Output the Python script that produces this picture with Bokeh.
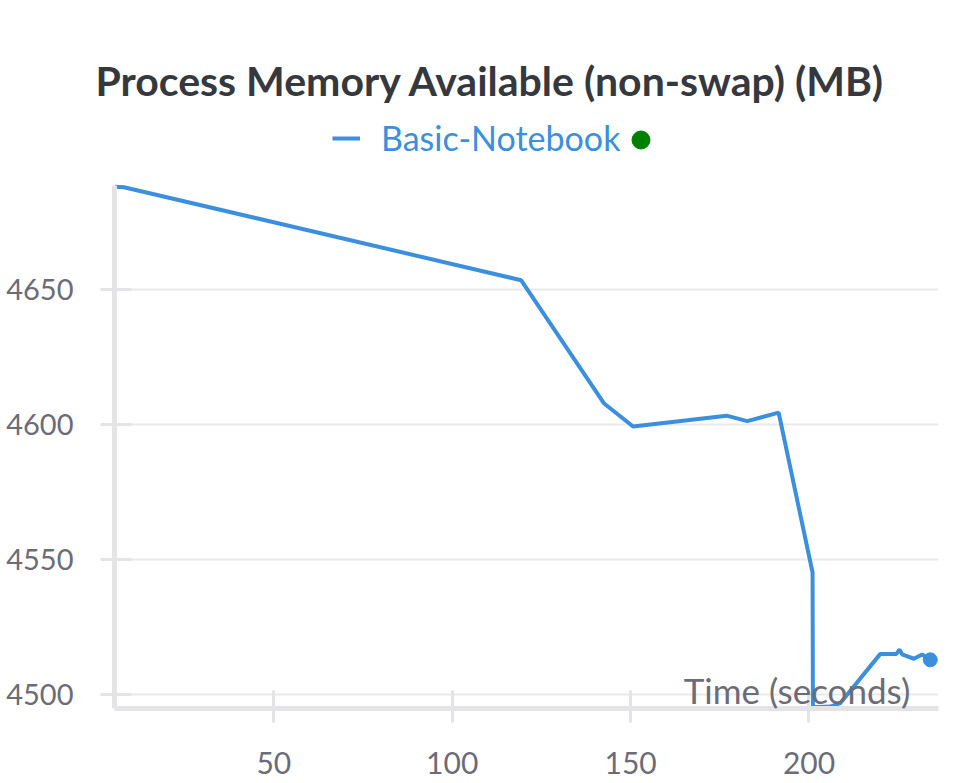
from bokeh.plotting import figure
from bokeh.models import (Range1d, FixedTicker, Legend, LegendItem, Label)
from bokeh.embed import file_html
from bokeh.resources import INLINE

# ---- data ----
time_s = [5.5, 8.0, 119.3, 142.5, 150.7, 176.9, 182.7, 191.5, 201.0, 201.1,
          206.0, 208.8, 220.0, 224.5, 225.4, 226.1, 229.4, 231.7, 234.0]
mem_mb = [4688.0, 4687.8, 4653.4, 4607.9, 4599.3, 4603.3, 4601.3, 4604.4,
          4545.3, 4495.5, 4495.7, 4497.0, 4515.2, 4515.2, 4516.8, 4515.0,
          4513.4, 4515.0, 4513.0]
x_ticks = [50, 100, 150, 200]
y_ticks = [4500, 4550, 4600, 4650]
series_name = "Basic-Notebook"
title_text = "Process Memory Available (non-swap) (MB)"
x_label = "Time (seconds)"

BLUE = "#3b8fdd"
GREEN = "#008000"
AXIS = "#e4e4e7"
TICKTXT = "#6c6c78"
FONT = "Lato"

Y_LO, Y_HI = 4495.0, 4688.4      # visible span of the value axis
Y_TOP = 4716.9                   # headroom that holds the legend row

p = figure(width=972, height=783, output_backend="svg", toolbar_location=None,
           x_range=Range1d(5.35, 236.3), y_range=Range1d(Y_LO, Y_TOP),
           min_border_left=114, min_border_right=34, min_border_top=108,
           min_border_bottom=75)
p.outline_line_color = None
p.background_fill_color = "white"

p.title.text = title_text
p.title.text_font = FONT
p.title.text_font_style = "bold"
p.title.text_font_size = "41px"
p.title.text_color = "#35383d"
p.title.align = "left"
p.title.offset = -19
p.title.standoff = 7

line = p.line(time_s, mem_mb, line_color=BLUE, line_width=4)
# status marker for the legend (sits under the end dot)
status = p.scatter(time_s[-1:], mem_mb[-1:], size=1, fill_color=GREEN,
                   line_color=GREEN)
p.scatter(time_s[-1:], mem_mb[-1:], size=14, fill_color=BLUE, line_color=BLUE)

common = dict(orientation="horizontal", label_text_font=FONT,
              label_text_font_size="34px", label_text_color=BLUE,
              padding=0, margin=0, background_fill_alpha=0,
              border_line_alpha=0)
legend = Legend(items=[LegendItem(label=series_name, renderers=[line])],
                location=(218, 550), glyph_width=28, glyph_height=20,
                label_standoff=21, **common)
legend2 = Legend(items=[LegendItem(label=" ", renderers=[status])],
                 location=(504, 546), glyph_width=45, glyph_height=45,
                 label_standoff=0, label_width=0, **common)
p.add_layout(legend)
p.add_layout(legend2)

for ax in (p.xaxis[0], p.yaxis[0]):
    ax.axis_line_color = AXIS
    ax.axis_line_width = 5
    ax.major_tick_line_color = AXIS
    ax.major_tick_line_width = 3
    ax.minor_tick_line_color = None
    ax.major_label_text_font = FONT
    ax.major_label_text_color = TICKTXT

p.xaxis.major_label_text_font_size = "30px"
p.yaxis.major_label_text_font_size = "29px"
p.yaxis.bounds = (Y_LO, Y_HI)
p.xaxis.ticker = FixedTicker(ticks=x_ticks)
p.yaxis.ticker = FixedTicker(ticks=y_ticks)
p.xaxis.major_tick_in = 18
p.xaxis.major_tick_out = 14
p.xaxis.major_label_standoff = 29
p.yaxis.major_tick_in = 17
p.yaxis.major_tick_out = 14
p.yaxis.major_label_standoff = 27

p.xgrid.grid_line_color = None
p.ygrid.grid_line_color = "#e9e9eb"
p.ygrid.grid_line_width = 2

p.add_layout(Label(x=228.4, y=4501.7, text=x_label, text_align="right",
                   text_baseline="alphabetic", text_font=FONT,
                   text_font_size="35px", text_color=TICKTXT))

open("out.html", "w").write(file_html(p, INLINE))
